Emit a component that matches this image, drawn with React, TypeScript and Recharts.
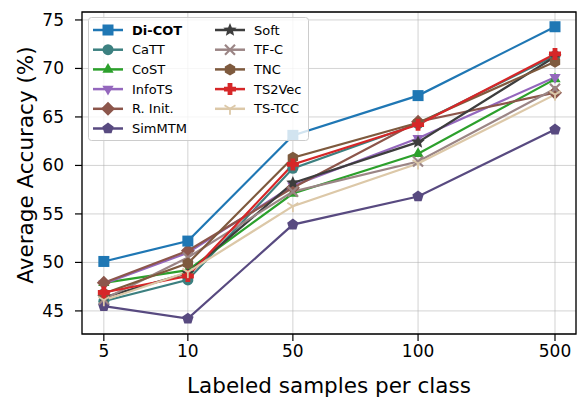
import React from "react";
import {
  LineChart,
  Line,
  XAxis,
  YAxis,
  CartesianGrid,
  ReferenceArea,
} from "recharts";

// x categories and their (uneven) positions along the axis
const SAMPLES = ["5", "10", "50", "100", "500"];
const X_POS = [0, 1, 2.25, 3.74, 5.37];

const DICOT = [50.1, 52.2, 63.1, 67.2, 74.3];
const CATT = [46.0, 48.2, 59.7, 64.3, 71.3];
const COST = [47.9, 49.2, 57.1, 61.2, 68.9];
const INFOTS = [47.8, 51.0, 57.9, 62.8, 69.1];
const RINIT = [47.9, 51.2, 57.7, 64.5, 67.5];
const SIMMTM = [45.5, 44.2, 53.9, 56.8, 63.7];
const SOFT = [46.4, 48.9, 58.2, 62.4, 71.2];
const TFC = [46.2, 50.5, 57.3, 60.4, 67.9];
const TNC = [46.8, 49.9, 60.8, 64.4, 70.7];
const TS2VEC = [46.9, 48.6, 60.1, 64.2, 71.5];
const TSTCC = [46.1, 49.0, 55.8, 60.2, 67.3];

const Y_TICKS = [45, 50, 55, 60, 65, 70, 75];

type Marker =
  | "square"
  | "circle"
  | "triUp"
  | "triDown"
  | "diamond"
  | "pentagon"
  | "star"
  | "x"
  | "hexagon"
  | "plus"
  | "tri";

interface Series {
  key: string;
  name: string;
  color: string;
  marker: Marker;
  values: number[];
  bold?: boolean;
}

const SERIES: Series[] = [
  { key: "dicot", name: "Di-COT", color: "#1f77b4", marker: "square", values: DICOT, bold: true },
  { key: "catt", name: "CaTT", color: "#3c8080", marker: "circle", values: CATT },
  { key: "cost", name: "CoST", color: "#2ca02c", marker: "triUp", values: COST },
  { key: "infots", name: "InfoTS", color: "#9467bd", marker: "triDown", values: INFOTS },
  { key: "rinit", name: "R. Init.", color: "#8c564b", marker: "diamond", values: RINIT },
  { key: "simmtm", name: "SimMTM", color: "#584a80", marker: "pentagon", values: SIMMTM },
  { key: "soft", name: "Soft", color: "#3d3d3d", marker: "star", values: SOFT },
  { key: "tfc", name: "TF-C", color: "#9b8585", marker: "x", values: TFC },
  { key: "tnc", name: "TNC", color: "#7e5a3e", marker: "hexagon", values: TNC },
  { key: "ts2vec", name: "TS2Vec", color: "#d62728", marker: "plus", values: TS2VEC },
  { key: "tstcc", name: "TS-TCC", color: "#dcc8a8", marker: "tri", values: TSTCC },
];

// line draw order (later on top)
const DRAW_ORDER = ["catt", "cost", "infots", "rinit", "simmtm", "soft", "tfc", "tnc", "ts2vec", "tstcc", "dicot"];

const data = SAMPLES.map((label, i) => {
  const row: Record<string, number | string> = { pos: X_POS[i], label };
  SERIES.forEach((s) => {
    row[s.key] = s.values[i];
  });
  return row;
});

function poly(cx: number, cy: number, r: number, n: number, rot: number): string {
  const pts: string[] = [];
  for (let i = 0; i < n; i++) {
    const a = rot + (i * 2 * Math.PI) / n;
    pts.push(`${cx + r * Math.cos(a)},${cy + r * Math.sin(a)}`);
  }
  return pts.join(" ");
}

function starPts(cx: number, cy: number, r: number): string {
  const pts: string[] = [];
  for (let i = 0; i < 10; i++) {
    const a = -Math.PI / 2 + (i * Math.PI) / 5;
    const rr = i % 2 === 0 ? r : r * 0.45;
    pts.push(`${cx + rr * Math.cos(a)},${cy + rr * Math.sin(a)}`);
  }
  return pts.join(" ");
}

function MarkerShape({ cx, cy, marker, color }: { cx: number; cy: number; marker: Marker; color: string }) {
  const s = 5.5;
  switch (marker) {
    case "square":
      return <rect x={cx - s} y={cy - s} width={2 * s} height={2 * s} fill={color} />;
    case "circle":
      return <circle cx={cx} cy={cy} r={s} fill={color} />;
    case "triUp":
      return <polygon points={poly(cx, cy, 6.5, 3, -Math.PI / 2)} fill={color} />;
    case "triDown":
      return <polygon points={poly(cx, cy, 6.5, 3, Math.PI / 2)} fill={color} />;
    case "diamond":
      return <polygon points={poly(cx, cy, 7, 4, 0)} fill={color} />;
    case "pentagon":
      return <polygon points={poly(cx, cy, 6, 5, -Math.PI / 2)} fill={color} />;
    case "star":
      return <polygon points={starPts(cx, cy, 7)} fill={color} />;
    case "x":
      return (
        <g stroke={color} strokeWidth={2.2}>
          <line x1={cx - 5} y1={cy - 5} x2={cx + 5} y2={cy + 5} />
          <line x1={cx - 5} y1={cy + 5} x2={cx + 5} y2={cy - 5} />
        </g>
      );
    case "hexagon":
      return <polygon points={poly(cx, cy, 6, 6, -Math.PI / 2)} fill={color} />;
    case "plus": {
      const a = 6;
      const b = 2.4;
      const p = [
        [-b, -a], [b, -a], [b, -b], [a, -b], [a, b], [b, b],
        [b, a], [-b, a], [-b, b], [-a, b], [-a, -b], [-b, -b],
      ]
        .map(([x, y]) => `${cx + x},${cy + y}`)
        .join(" ");
      return <polygon points={p} fill={color} />;
    }
    case "tri":
      return (
        <g stroke={color} strokeWidth={1.8}>
          <line x1={cx} y1={cy} x2={cx} y2={cy + 6} />
          <line x1={cx} y1={cy} x2={cx - 5.5} y2={cy - 3.5} />
          <line x1={cx} y1={cy} x2={cx + 5.5} y2={cy - 3.5} />
        </g>
      );
  }
  return null;
}

const FONT = "DejaVu Sans, sans-serif";

// legend box plus the two axis titles, drawn over the chart
function Overlay() {
  const rows = 6;
  const colX = [93, 215];
  const rowY = (i: number) => 30 + i * 19.7;
  return (
    <svg
      width={577}
      height={399}
      style={{ position: "absolute", left: 0, top: 0, pointerEvents: "none" }}
    >
      <text x={329} y={385} dy="0.36em" textAnchor="middle" fontFamily={FONT} fontSize={21.5} fill="#000">
        Labeled samples per class
      </text>
      <text
        x={0}
        y={0}
        transform="translate(25,165) rotate(-90)"
        dy="0.36em"
        textAnchor="middle"
        fontFamily={FONT}
        fontSize={21.5}
        fill="#000"
      >
        Average Accuracy (%)
      </text>
      <rect x={88.5} y={17.5} width={220} height={123} rx={3} fill="rgba(255,255,255,0.8)" stroke="#cccccc" />
      {SERIES.map((s, i) => {
        const col = Math.floor(i / rows);
        const row = i % rows;
        const x = colX[col];
        const y = rowY(row);
        return (
          <g key={s.key}>
            <line x1={x} y1={y} x2={x + 30} y2={y} stroke={s.color} strokeWidth={2.5} />
            <MarkerShape cx={x + 15} cy={y} marker={s.marker} color={s.color} />
            <text
              x={x + 39}
              y={y}
              dy="0.36em"
              fontFamily={FONT}
              fontSize={13}
              fontWeight={s.bold ? "bold" : "normal"}
              fill="#000"
            >
              {s.name}
            </text>
          </g>
        );
      })}
    </svg>
  );
}

export default function App() {
  return (
    <div style={{ position: "absolute", left: 0, top: 0, width: 577, height: 399, background: "#fff" }}>
      <LineChart
        width={577}
        height={399}
        data={data}
        margin={{ top: 12, right: 1, bottom: 0, left: 0 }}
        style={{ fontFamily: FONT }}
      >
        <CartesianGrid stroke="#b0b0b0" strokeWidth={0.8} strokeOpacity={0.7} />
        <XAxis
          type="number"
          dataKey="pos"
          domain={[-0.26, 5.62]}
          ticks={X_POS}
          tickFormatter={(v: number) => SAMPLES[X_POS.indexOf(v)] ?? ""}
          height={65}
          tickSize={7}
          tickMargin={4}
          tick={{ fontSize: 17, fill: "#000", fontFamily: FONT }}
          tickLine={{ stroke: "#000", strokeWidth: 1.2 }}
          axisLine={false}
          allowDataOverflow
        />
        <YAxis
          type="number"
          domain={[42.62, 75.82]}
          ticks={Y_TICKS}
          width={82}
          tickSize={7}
          tickMargin={11}
          tick={{ fontSize: 17, fill: "#000", fontFamily: FONT }}
          tickLine={{ stroke: "#000", strokeWidth: 1.2 }}
          axisLine={false}
          allowDataOverflow
        />
        {DRAW_ORDER.map((k) => {
          const s = SERIES.find((x) => x.key === k)!;
          return (
            <Line
              key={s.key}
              type="linear"
              dataKey={s.key}
              name={s.name}
              stroke={s.color}
              strokeWidth={2.2}
              isAnimationActive={false}
              activeDot={false}
              dot={(p: any) => (
                <MarkerShape key={`${s.key}-${p.index}`} cx={p.cx} cy={p.cy} marker={s.marker} color={s.color} />
              )}
            />
          );
        })}
        <ReferenceArea
          x1={-0.26}
          x2={5.62}
          y1={42.62}
          y2={75.82}
          fill="none"
          stroke="#000"
          strokeWidth={1.3}
          ifOverflow="visible"
        />
      </LineChart>
      <Overlay />
    </div>
  );
}
